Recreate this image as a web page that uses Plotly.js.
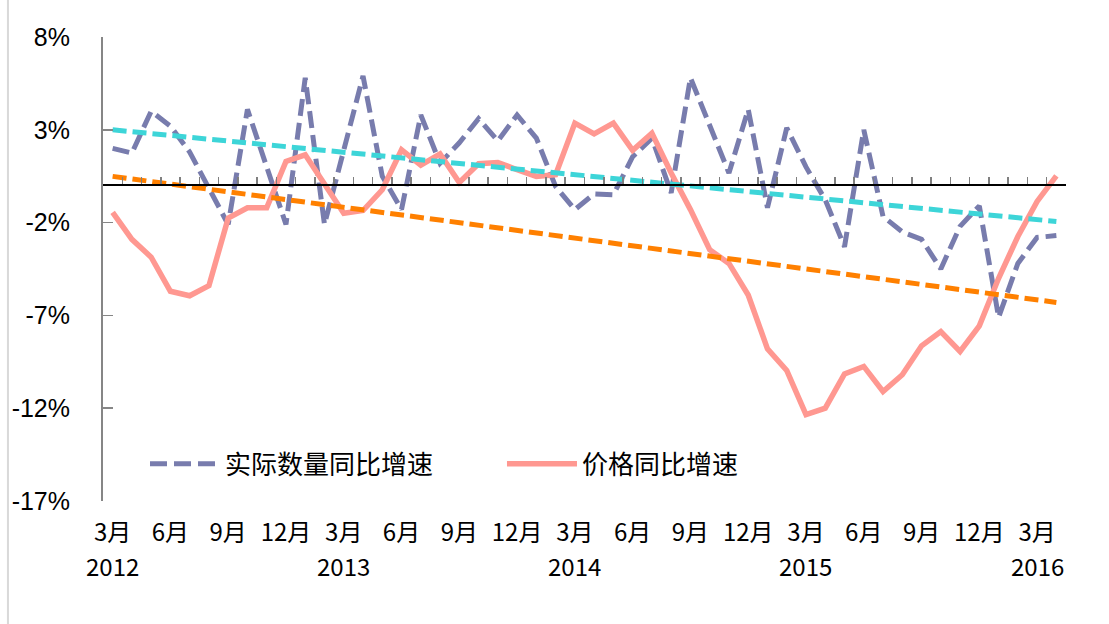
<!DOCTYPE html>
<html>
<head>
<meta charset="utf-8">
<script src="https://cdn.plot.ly/plotly-3.0.1.min.js"></script>
<style>html,body{margin:0;padding:0;background:#fff;}#chart{width:1109px;height:624px;}</style>
</head>
<body>
<div id="chart"></div>
<script>
// Months: Mar 2012 .. Apr 2016
var months = ["2012-03","2012-04","2012-05","2012-06","2012-07","2012-08","2012-09","2012-10","2012-11","2012-12",
  "2013-01","2013-02","2013-03","2013-04","2013-05","2013-06","2013-07","2013-08","2013-09","2013-10","2013-11","2013-12",
  "2014-01","2014-02","2014-03","2014-04","2014-05","2014-06","2014-07","2014-08","2014-09","2014-10","2014-11","2014-12",
  "2015-01","2015-02","2015-03","2015-04","2015-05","2015-06","2015-07","2015-08","2015-09","2015-10","2015-11","2015-12",
  "2016-01","2016-02","2016-03","2016-04"];

// 实际数量同比增速 (%)
var quantityGrowth = [2.0, 1.75, 4.0, 3.2, 1.8, -0.2, -2.1, 4.1, 1.0, -2.1,
  5.8, -2.1, 1.9, 5.9, 0.5, -1.3, 3.8, 1.2, 2.3, 3.6, 2.4, 3.8,
  2.55, -0.05, -1.3, -0.45, -0.5, 1.55, 2.55, -0.4, 5.8, 3.2, 0.67, 4.1,
  -1.2, 3.1, 1.0, -0.77, -3.3, 3.0, -1.67, -2.5, -2.9, -4.5, -2.2, -1.1,
  -7.1, -4.2, -2.8, -2.7];

// 价格同比增速 (%)
var priceGrowth = [-1.45, -2.9, -3.86, -5.7, -5.94, -5.4, -1.76, -1.2, -1.2, 1.3,
  1.65, 0.04, -1.5, -1.35, -0.23, 1.92, 1.1, 1.7, 0.16, 1.17, 1.24, 0.85,
  0.49, 0.58, 3.36, 2.78, 3.36, 1.89, 2.82, 0.67, -1.3, -3.46, -4.2, -5.9,
  -8.8, -9.97, -12.35, -12.0, -10.15, -9.75, -11.1, -10.2, -8.64, -7.87, -8.94, -7.56,
  -5.0, -2.75, -0.86, 0.52];

// Linear trend lines (start, end values)
var trendX = [months[0], months[months.length - 1]];
var quantityTrend = [3.0, -1.94];
var priceTrend = [0.49, -6.3];

// Tick labels
var monthTickVals = ["2012-03","2012-06","2012-09","2012-12","2013-03","2013-06","2013-09","2013-12",
  "2014-03","2014-06","2014-09","2014-12","2015-03","2015-06","2015-09","2015-12","2016-03"];
var monthTickText = ["3月","6月","9月","12月","3月","6月","9月","12月",
  "3月","6月","9月","12月","3月","6月","9月","12月","3月"];
var yearLabelX = ["2012-03","2013-03","2014-03","2015-03","2016-03"];
var yearLabelText = ["2012","2013","2014","2015","2016"];
var yTickVals = [8, 3, -2, -7, -12, -17];
var yTickText = ["8%", "3%", "-2%", "-7%", "-12%", "-17%"];

var seriesNames = ["实际数量同比增速", "价格同比增速"];

var cjk = "Noto Sans CJK SC, Noto Sans, sans-serif";

var traces = [
  {x: months, y: quantityGrowth, type: "scatter", mode: "lines", name: seriesNames[0],
   line: {color: "#787CAD", width: 5, dash: "17px,7px"}, xaxis: "x", yaxis: "y"},
  {x: months, y: priceGrowth, type: "scatter", mode: "lines", name: seriesNames[1],
   line: {color: "#FF9891", width: 5.5}, xaxis: "x", yaxis: "y"},
  {x: trendX, y: quantityTrend, type: "scatter", mode: "lines", showlegend: false,
   line: {color: "#3DD5D8", width: 5, dash: "14px,6px"}, xaxis: "x2", yaxis: "y"},
  {x: trendX, y: priceTrend, type: "scatter", mode: "lines", showlegend: false,
   line: {color: "#FF8000", width: 5, dash: "14px,6px"}, xaxis: "x2", yaxis: "y"}
];

var annotations = yearLabelX.map(function (m, i) {
  return {x: m, xref: "x", y: -0.139, yref: "paper", text: yearLabelText[i], showarrow: false,
    xanchor: "center", yanchor: "middle", font: {family: cjk, size: 24, color: "#000"}};
});

var layout = {
  width: 1109, height: 624,
  margin: {l: 103, r: 43, t: 37, b: 123, pad: 0},
  paper_bgcolor: "#fff", plot_bgcolor: "rgba(0,0,0,0)",
  showlegend: true,
  xaxis: {
    type: "category", categoryorder: "array", categoryarray: months, range: [-0.5, months.length - 0.5],
    tickmode: "array", tickvals: monthTickVals, ticktext: monthTickText,
    ticks: "", showline: false, showgrid: false, zeroline: false,
    ticklabelstandoff: 15,
    tickfont: {family: cjk, size: 24, color: "#000"}, fixedrange: true
  },
  xaxis2: {
    type: "category", categoryorder: "array", categoryarray: months, range: [-0.5, months.length - 0.5],
    overlaying: "x", anchor: "free", position: 0.68, side: "bottom",
    showline: true, linecolor: "#000", linewidth: 2,
    ticks: "inside", tickson: "boundaries", ticklen: 7, tickwidth: 1.5, tickcolor: "#7F7F7F",
    showticklabels: false, showgrid: false, zeroline: false, fixedrange: true
  },
  yaxis: {
    range: [-17, 8], tickmode: "array", tickvals: yTickVals, ticktext: yTickText,
    showline: true, linecolor: "#868686", linewidth: 2,
    ticks: "inside", ticklen: 10, tickwidth: 1.5, tickcolor: "#868686",
    ticklabelstandoff: 26,
    showgrid: false, zeroline: false,
    tickfont: {family: "Liberation Sans, Arial, sans-serif", size: 25, color: "#000"}, fixedrange: true
  },
  legend: {
    orientation: "h", x: 0.0436, xanchor: "left", y: 0.0798, yanchor: "middle",
    itemwidth: 70, entrywidth: 272, entrywidthmode: "pixels",
    font: {family: cjk, size: 26, color: "#000"}, bgcolor: "rgba(0,0,0,0)", borderwidth: 0
  },
  annotations: annotations,
  shapes: [
    {type: "line", xref: "paper", yref: "paper", x0: -0.0987, x1: -0.0987, y0: -0.27, y1: 1.09,
     line: {color: "#D9D9D9", width: 2}}
  ]
};

Plotly.newPlot("chart", traces, layout, {displayModeBar: false, staticPlot: true});
</script>
</body>
</html>
